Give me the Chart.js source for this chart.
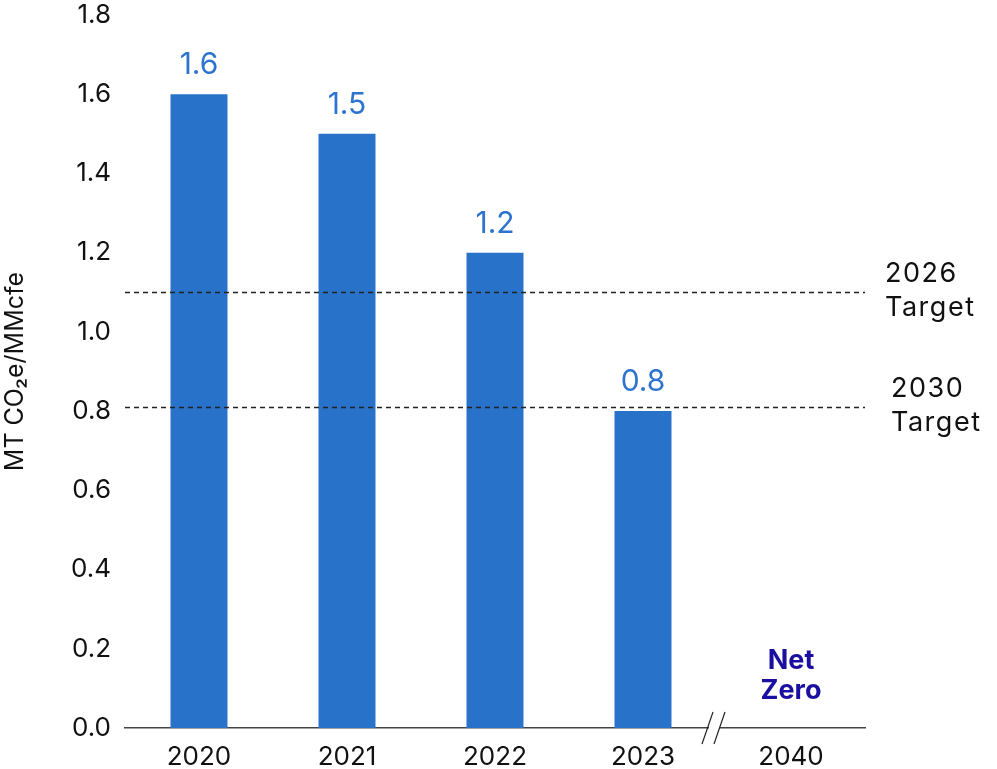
<!DOCTYPE html>
<html><head><meta charset="utf-8">
<script src="https://cdn.jsdelivr.net/npm/chart.js@4.4.0/dist/chart.umd.min.js"></script>
<style>html,body{margin:0;padding:0;background:#fff}#wrap{width:997px;height:769px}</style>
</head><body><div id="wrap"><canvas id="c" width="997" height="769"></canvas></div>
<script>
const categories = ['2020','2021','2022','2023','2040'];
const intensity = [1.6, 1.5, 1.2, 0.8, null];
const targetValues = [1.1, 0.81];
const targetLabels = [['2026','Target'], ['2030','Target']];
const netZeroLabel = ['Net','Zero'];
const yTicks = [0,0.2,0.4,0.6,0.8,1.0,1.2,1.4,1.6,1.8];
const FONT = 'Inter, "Noto Sans", sans-serif';

const overlay = {
  id:'overlay',
  afterDatasetsDraw(chart){
    const {ctx, chartArea:a, scales:{x,y}} = chart;
    ctx.save();
    ctx.fillStyle = '#2d74cf';
    ctx.font = '30px ' + FONT;
    ctx.textAlign = 'center'; ctx.textBaseline = 'alphabetic';
    intensity.forEach((v,i)=>{ if(v==null) return;
      ctx.fillText(v.toFixed(1), x.getPixelForValue(i), y.getPixelForValue(v)-20);
    });
    ctx.strokeStyle = '#222'; ctx.lineWidth = 1.5; ctx.setLineDash([5,4]);
    targetValues.forEach((t)=>{
      const py = Math.round(y.getPixelForValue(t))+0.5;
      ctx.beginPath(); ctx.moveTo(a.left, py); ctx.lineTo(a.right, py); ctx.stroke();
    });
    ctx.setLineDash([]);
    ctx.fillStyle = '#111'; ctx.font = '27px ' + FONT; ctx.textBaseline='middle';
    ctx.textAlign = 'left';
    try { ctx.letterSpacing = '1.5px'; } catch(e) {}
    targetValues.forEach((t,i)=>{
      const py = y.getPixelForValue(t);
      const lx = a.right + (i===0 ? 20 : 26);
      ctx.fillText(targetLabels[i][0], lx, py-18);
      ctx.fillText(targetLabels[i][1], lx, py+16);
    });
    try { ctx.letterSpacing = '0px'; } catch(e) {}
    ctx.textAlign = 'center';
    ctx.fillStyle = '#1a0fa0'; ctx.font = 'bold 27px ' + FONT;
    const nx = x.getPixelForValue(4);
    ctx.fillText(netZeroLabel[0], nx, y.getPixelForValue(0)-67);
    ctx.fillText(netZeroLabel[1], nx, y.getPixelForValue(0)-37);
    const bx = (x.getPixelForValue(3)+x.getPixelForValue(4))/2;
    const by = y.getPixelForValue(0);
    ctx.fillStyle='#fff'; ctx.fillRect(bx-8, by-2, 10, 4);
    ctx.strokeStyle='#222'; ctx.lineWidth=1.2;
    [-12,0].forEach(o=>{ ctx.beginPath(); ctx.moveTo(bx+o-3, by+16); ctx.lineTo(bx+o+8, by-16); ctx.stroke(); });
    ctx.restore();
  }
};

new Chart(document.getElementById('c'), {
  type:'bar',
  data:{labels:categories, datasets:[{data:intensity, backgroundColor:'#2872ca', barPercentage:0.385, categoryPercentage:1}]},
  options:{
    responsive:false, animation:false,
    layout:{padding:{top:15, right:132, left:0, bottom:0}},
    plugins:{legend:{display:false}, tooltip:{enabled:false}},
    scales:{
      x:{grid:{display:false}, border:{display:true, color:'#444', width:1.5},
         ticks:{color:'#111', font:{family:FONT, size:26}, padding:6},
         afterFit(s){ s.height = 41; s.paddingLeft = 0; s.paddingRight = 0; }},
      y:{min:0, max:1.8, grid:{display:false}, border:{display:false},
         afterBuildTicks(s){ s.ticks = yTicks.map(v=>({value:v})); },
         ticks:{color:'#111', font:{family:FONT, size:26}, padding:6, callback:v=>Number(v).toFixed(1)},
         title:{display:true, text:'MT CO₂e/MMcfe', color:'#111', font:{family:FONT, size:25}, padding:{top:0,bottom:14}},
         afterFit(s){ s.width = 125; s.paddingTop = 0; s.paddingBottom = 0; }}
    }
  },
  plugins:[overlay]
});
</script></body></html>
